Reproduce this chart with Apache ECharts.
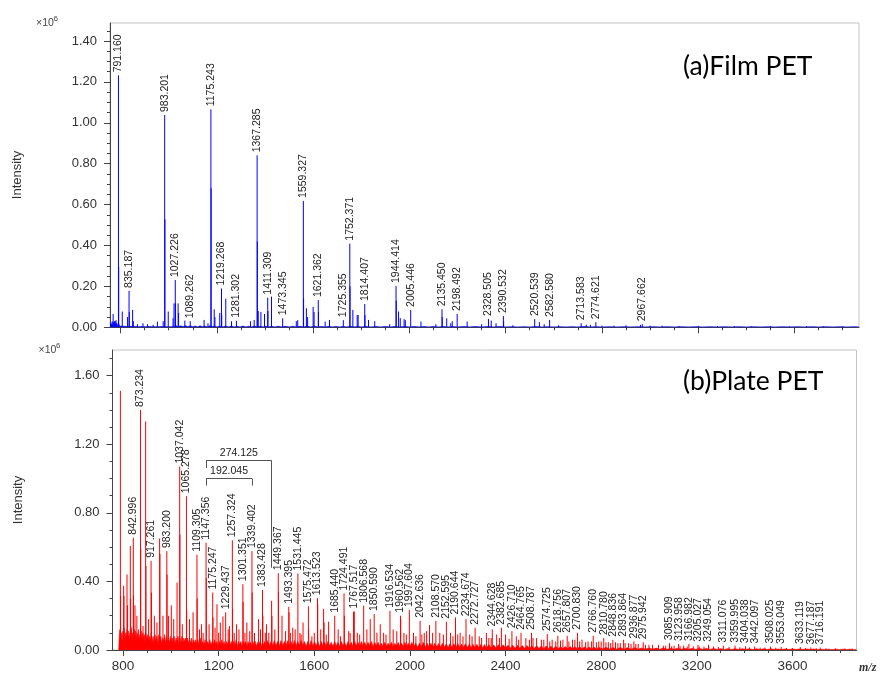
<!DOCTYPE html>
<html><head><meta charset="utf-8">
<script src="https://cdn.jsdelivr.net/npm/echarts@6.0.0/dist/echarts.min.js"></script>
<style>html,body{margin:0;padding:0;background:#fff}#c{width:883px;height:673px}</style>
</head><body><div id="c"></div>
<script>
// ---------- axis ticks ----------
const xMajorTicks = [800, 1200, 1600, 2000, 2400, 2800, 3200, 3600];
const filmYTicks = [0, 0.2, 0.4, 0.6, 0.8, 1.0, 1.2, 1.4];
const plateYTicks = [0, 0.4, 0.8, 1.2, 1.6];

// ---------- (a) Film PET : labelled peaks (m/z, intensity x10^6) ----------
const filmLabelMz = [791.160, 835.187, 983.201, 1027.226, 1089.262, 1175.243, 1219.268, 1281.302, 1367.285, 1411.309, 1473.345, 1559.327, 1621.362, 1725.355, 1752.371, 1814.407, 1944.414, 2005.446, 2135.450, 2198.492, 2328.505, 2390.532, 2520.539, 2582.580, 2713.583, 2774.621, 2967.662];
const filmLabelInt = [1.232, 0.178, 1.038, 0.231, 0.030, 1.066, 0.190, 0.032, 0.841, 0.145, 0.044, 0.618, 0.133, 0.035, 0.409, 0.114, 0.202, 0.085, 0.088, 0.065, 0.041, 0.055, 0.040, 0.036, 0.020, 0.025, 0.015];
// unlabelled peaks [m/z, intensity]
const filmMinor = [[769,0.065],[775,0.03],[781,0.035],[792.16,0.296],[807,0.077],[829,0.05],[836.19,0.075],[850,0.085],[853,0.03],[870,0.015],[893,0.02],[912,0.015],[935,0.012],[953,0.028],[977,0.03],[984.2,0.528],[998,0.077],[1018,0.044],[1022,0.117],[1028.23,0.117],[1039,0.117],[1041,0.07],[1067,0.033],[1147,0.036],[1163,0.02],[1176.24,0.68],[1189,0.088],[1192,0.05],[1212,0.07],[1220.27,0.06],[1237,0.14],[1261,0.03],[1340,0.03],[1355,0.036],[1368.29,0.42],[1372,0.08],[1383,0.075],[1398,0.065],[1412.31,0.08],[1427,0.15],[1530,0.03],[1536,0.035],[1560.33,0.142],[1572,0.093],[1577,0.05],[1600,0.1],[1604,0.075],[1622.36,0.075],[1650,0.028],[1668,0.036],[1753.37,0.2],[1765,0.085],[1783,0.06],[1787,0.06],[1815.41,0.06],[1830,0.036],[1856,0.03],[1918,0.015],[1945.41,0.13],[1955,0.077],[1962,0.045],[1978,0.04],[1983,0.035],[2048,0.028],[2110,0.015],[2136.45,0.05],[2155,0.044],[2172,0.02],[2178,0.03],[2240,0.028],[2300,0.015],[2340,0.033],[2360,0.02],[2391.53,0.03],[2430,0.01],[2540,0.025],[2560,0.015],[2620,0.01],[2735,0.013],[2752,0.012],[2800,0.008],[2850,0.008],[2900,0.01],[2960,0.012],[3000,0.008],[3050,0.008],[3120,0.006],[3200,0.007],[3280,0.006],[3350,0.006],[3420,0.005],[3500,0.006],[3580,0.005],[3650,0.006],[3720,0.005],[3800,0.005]];
// baseline noise
const filmNoise = [[756,0.022],[759,0.03],[762,0.012],[765,0.028],[768,0.01],[771,0.025],[774,0.012],[777,0.03],[780,0.01],[784,0.022],[788,0.008],[792,0.018],[796,0.006],[801,0.014],[806,0.005],[811,0.012],[816,0.005],[821,0.014],[826,0.004],[831,0.01],[838,0.005],[844,0.012],[850,0.004],[856,0.01],[862,0.004],[868,0.009],[875,0.003],[882,0.008],[889,0.004],[896,0.01],[903,0.003],[910,0.008],[917,0.004],[924,0.009],[931,0.003],[938,0.008],[945,0.003],[952,0.009],[959,0.003],[966,0.008],[973,0.004],[980,0.01],[988,0.003],[996,0.008],[1004,0.003],[1012,0.007],[1020,0.003],[1030,0.008],[1040,0.003],[1050,0.007],[1060,0.003],[1070,0.008],[1080,0.003],[1090,0.007],[1100,0.003],[1110,0.006],[1120,0.002],[1130,0.007],[1140,0.003],[1150,0.006],[1160,0.002],[1170,0.007],[1180,0.003],[1190,0.006],[1200,0.002],[1212,0.006],[1224,0.002],[1236,0.006],[1248,0.002],[1260,0.006],[1272,0.002],[1284,0.005],[1296,0.002],[1308,0.006],[1320,0.002],[1332,0.005],[1344,0.002],[1356,0.006],[1368,0.002],[1380,0.005],[1392,0.002],[1404,0.005],[1416,0.002],[1428,0.005],[1440,0.002],[1455,0.005],[1470,0.002],[1485,0.005],[1500,0.002],[1515,0.005],[1530,0.002],[1545,0.005],[1560,0.002],[1575,0.005],[1590,0.002],[1605,0.005],[1620,0.002],[1635,0.004],[1650,0.002],[1665,0.005],[1680,0.002],[1695,0.004],[1710,0.002],[1725,0.004],[1740,0.002],[1755,0.005],[1770,0.002],[1785,0.004],[1800,0.002],[1820,0.004],[1840,0.002],[1860,0.004],[1880,0.002],[1900,0.004],[1920,0.002],[1940,0.004],[1960,0.002],[1980,0.004],[2000,0.002],[2020,0.004],[2040,0.002],[2060,0.004],[2080,0.002],[2100,0.004],[2120,0.002],[2140,0.004],[2160,0.002],[2180,0.004],[2200,0.002],[2225,0.004],[2250,0.002],[2275,0.004],[2300,0.002],[2325,0.004],[2350,0.002],[2375,0.004],[2400,0.002],[2425,0.003],[2450,0.002],[2475,0.003],[2500,0.002],[2525,0.004],[2550,0.002],[2575,0.003],[2600,0.002],[2625,0.003],[2650,0.002],[2675,0.003],[2700,0.002],[2725,0.004],[2750,0.002],[2775,0.003],[2800,0.002],[2830,0.003],[2860,0.002],[2890,0.003],[2920,0.002],[2950,0.003],[2980,0.002],[3010,0.003],[3040,0.002],[3070,0.003],[3100,0.002],[3130,0.003],[3160,0.002],[3190,0.003],[3220,0.002],[3250,0.003],[3280,0.002],[3310,0.003],[3340,0.002],[3370,0.003],[3400,0.002],[3430,0.003],[3460,0.002],[3490,0.003],[3520,0.002],[3550,0.003],[3580,0.002],[3610,0.003],[3640,0.002],[3670,0.003],[3700,0.002],[3730,0.003],[3760,0.002],[3790,0.003],[3820,0.002],[3850,0.003],[3868,0.002]];

// ---------- (b) Plate PET : labelled peaks ----------
const plateLabelMz = [842.996, 873.234, 917.261, 983.200, 1037.042, 1065.278, 1109.305, 1147.356, 1175.247, 1229.437, 1257.324, 1301.351, 1339.402, 1383.428, 1449.367, 1493.395, 1531.445, 1575.472, 1613.523, 1685.440, 1724.491, 1767.517, 1806.568, 1850.590, 1916.534, 1960.562, 1997.604, 2042.636, 2108.570, 2152.595, 2190.644, 2234.674, 2272.727, 2344.628, 2382.685, 2426.710, 2464.765, 2508.787, 2574.725, 2618.756, 2657.807, 2700.830, 2766.760, 2810.780, 2848.836, 2893.864, 2936.877, 2975.942, 3085.909, 3123.958, 3166.982, 3205.027, 3249.054, 3311.076, 3359.995, 3404.038, 3442.097, 3508.025, 3553.049, 3633.119, 3677.187, 3716.191];
const plateLabelInt = [0.655, 1.400, 0.520, 0.577, 1.070, 0.897, 0.556, 0.626, 0.335, 0.220, 0.640, 0.384, 0.577, 0.350, 0.448, 0.252, 0.446, 0.255, 0.302, 0.200, 0.330, 0.225, 0.258, 0.210, 0.229, 0.200, 0.233, 0.170, 0.170, 0.165, 0.190, 0.180, 0.130, 0.120, 0.130, 0.110, 0.100, 0.100, 0.093, 0.083, 0.083, 0.100, 0.083, 0.070, 0.060, 0.060, 0.050, 0.045, 0.040, 0.035, 0.035, 0.030, 0.030, 0.025, 0.025, 0.022, 0.020, 0.020, 0.018, 0.017, 0.015, 0.015];
// unlabelled peaks [m/z, intensity]
const plateMinor = [[789.0,1.512],[790.0,0.316],[802.6,0.374],[804,0.316],[816.7,0.44],[819,0.26],[830.5,0.607],[832,0.30],[844,0.32],[850,0.26],[858,0.20],[874.2,0.59],[883.6,0.14],[894.6,1.333],[896,0.49],[907,0.18],[919,0.335],[931,0.20],[942,0.16],[953,0.65],[954.5,0.56],[967,0.20],[984.2,0.44],[990,0.20],[1002,0.26],[1012,0.18],[1026,0.393],[1038,0.674],[1048,0.15],[1066.3,0.23],[1078,0.18],[1093,0.22],[1110.3,0.30],[1120,0.12],[1128,0.15],[1135,0.10],[1148.4,0.42],[1160,0.15],[1176.2,0.19],[1185,0.13],[1193,0.267],[1200,0.10],[1207,0.16],[1218,0.196],[1240,0.12],[1245,0.14],[1258.3,0.24],[1265,0.10],[1275,0.15],[1285,0.12],[1302.4,0.28],[1310,0.10],[1318,0.16],[1330,0.11],[1340.4,0.335],[1350,0.10],[1367,0.18],[1375,0.12],[1385,0.20],[1395,0.10],[1400,0.15],[1410,0.10],[1421.5,0.287],[1423,0.20],[1435,0.12],[1450.4,0.34],[1465,0.20],[1480,0.11],[1494.4,0.22],[1500,0.10],[1510,0.13],[1520,0.12],[1540,0.10],[1545,0.09],[1553,0.16],[1576.5,0.12],[1590,0.08],[1600,0.10],[1614.5,0.267],[1627,0.12],[1639,0.24],[1641,0.16],[1650,0.09],[1660,0.165],[1700,0.12],[1710,0.08],[1726,0.20],[1744,0.11],[1750,0.10],[1764,0.223],[1780,0.10],[1790,0.09],[1820,0.12],[1834,0.18],[1862,0.10],[1876,0.15],[1890,0.10],[1900,0.09],[1930,0.12],[1945,0.11],[1961.6,0.18],[1975,0.10],[1985,0.09],[2015,0.10],[2025,0.08],[2050,0.09],[2060,0.10],[2070,0.11],[2082,0.145],[2095,0.10],[2125,0.10],[2140,0.09],[2170,0.10],[2180,0.08],[2200,0.09],[2210,0.10],[2222,0.08],[2250,0.09],[2260,0.08],[2290,0.08],[2300,0.07],[2320,0.10],[2330,0.07],[2340,0.07],[2363,0.09],[2375,0.07],[2400,0.09],[2415,0.065],[2445,0.08],[2455,0.06],[2485,0.07],[2500,0.06],[2515,0.07],[2530,0.07],[2550,0.06],[2560,0.06],[2585,0.05],[2595,0.06],[2610,0.05],[2630,0.055],[2640,0.06],[2665,0.05],[2680,0.06],[2690,0.06],[2710,0.05],[2720,0.06],[2735,0.045],[2745,0.05],[2760,0.05],[2780,0.045],[2790,0.05],[2800,0.05],[2820,0.045],[2830,0.045],[2840,0.04],[2860,0.045],[2870,0.04],[2880,0.04],[2900,0.04],[2915,0.04],[2925,0.035],[2945,0.035],[2955,0.035],[2985,0.03],[3000,0.03],[3015,0.03],[3040,0.03],[3060,0.025],[3070,0.025],[3095,0.022],[3105,0.025],[3130,0.022],[3145,0.025],[3160,0.02],[3185,0.022],[3210,0.02],[3230,0.02],[3250,0.018],[3270,0.02],[3290,0.018],[3335,0.018],[3380,0.016],[3420,0.015],[3465,0.014],[3485,0.014],[3530,0.013],[3575,0.012],[3600,0.012],[3655,0.011],[3700,0.01],[3740,0.01],[3780,0.009],[3820,0.009],[3850,0.008]];
// baseline noise
const plateNoise = [[782,0],[784,0.07],[787,0.12],[790,0.06],[793,0.1],[796,0.05],[799,0.11],[802,0.07],[805,0.13],[808,0.06],[811,0.1],[814,0.08],[817,0.12],[820,0.07],[823,0.11],[826,0.06],[829,0.1],[832,0.08],[835,0.13],[838,0.07],[841,0.1],[844,0.06],[847,0.12],[850,0.08],[853,0.11],[856,0.06],[859,0.1],[862,0.07],[865,0.12],[868,0.06],[871,0.09],[874,0.07],[877,0.11],[880,0.06],[883,0.1],[886,0.07],[889,0.09],[892,0.05],[895,0.1],[898,0.06],[902,0.09],[906,0.05],[910,0.08],[914,0.05],[918,0.1],[922,0.05],[926,0.08],[930,0.04],[934,0.09],[938,0.05],[942,0.08],[946,0.04],[950,0.09],[954,0.05],[958,0.08],[962,0.04],[966,0.07],[970,0.05],[974,0.09],[978,0.04],[982,0.08],[986,0.05],[990,0.07],[994,0.04],[998,0.08],[1002,0.05],[1006,0.07],[1010,0.04],[1014,0.08],[1018,0.04],[1022,0.07],[1026,0.05],[1030,0.08],[1034,0.04],[1038,0.07],[1042,0.04],[1046,0.08],[1050,0.04],[1054,0.07],[1058,0.05],[1062,0.07],[1066,0.04],[1070,0.07],[1074,0.04],[1078,0.06],[1082,0.04],[1086,0.07],[1090,0.03],[1094,0.06],[1098,0.04],[1103,0.06],[1108,0.03],[1113,0.06],[1118,0.03],[1123,0.07],[1128,0.03],[1133,0.05],[1138,0.03],[1143,0.06],[1148,0.03],[1153,0.05],[1158,0.03],[1163,0.06],[1168,0.03],[1173,0.05],[1178,0.03],[1183,0.06],[1188,0.03],[1193,0.05],[1198,0.02],[1203,0.05],[1208,0.03],[1213,0.06],[1218,0.03],[1223,0.05],[1228,0.02],[1233,0.05],[1238,0.03],[1243,0.06],[1248,0.03],[1253,0.05],[1258,0.02],[1263,0.05],[1268,0.03],[1273,0.06],[1278,0.02],[1283,0.05],[1288,0.03],[1293,0.05],[1298,0.02],[1303,0.05],[1308,0.03],[1313,0.05],[1318,0.02],[1323,0.05],[1328,0.03],[1333,0.045],[1338,0.02],[1343,0.05],[1348,0.03],[1353,0.05],[1358,0.02],[1363,0.045],[1368,0.03],[1373,0.05],[1378,0.02],[1383,0.045],[1388,0.03],[1393,0.05],[1398,0.02],[1405,0.055],[1412,0.025],[1419,0.05],[1426,0.025],[1433,0.055],[1440,0.025],[1447,0.05],[1454,0.025],[1461,0.055],[1468,0.025],[1475,0.05],[1482,0.025],[1489,0.055],[1496,0.025],[1503,0.05],[1510,0.025],[1517,0.055],[1524,0.025],[1531,0.05],[1538,0.025],[1545,0.055],[1552,0.025],[1559,0.05],[1566,0.02],[1573,0.05],[1580,0.025],[1587,0.055],[1594,0.02],[1601,0.05],[1608,0.025],[1615,0.05],[1622,0.02],[1629,0.05],[1636,0.025],[1643,0.045],[1650,0.02],[1657,0.05],[1664,0.025],[1671,0.045],[1678,0.02],[1685,0.05],[1692,0.025],[1699,0.045],[1706,0.02],[1713,0.05],[1720,0.025],[1727,0.045],[1734,0.02],[1741,0.05],[1748,0.025],[1755,0.045],[1762,0.02],[1769,0.05],[1776,0.025],[1783,0.045],[1790,0.02],[1797,0.05],[1804,0.025],[1811,0.045],[1818,0.02],[1825,0.045],[1832,0.025],[1839,0.05],[1846,0.02],[1853,0.045],[1860,0.025],[1867,0.045],[1874,0.02],[1881,0.04],[1888,0.02],[1895,0.045],[1902,0.02],[1909,0.04],[1916,0.025],[1923,0.045],[1930,0.02],[1937,0.04],[1944,0.02],[1951,0.045],[1958,0.02],[1965,0.04],[1972,0.02],[1979,0.045],[1986,0.02],[1993,0.04],[2000,0.02],[2008,0.045],[2016,0.018],[2024,0.04],[2032,0.016],[2040,0.04],[2048,0.018],[2056,0.045],[2064,0.016],[2072,0.04],[2080,0.018],[2088,0.04],[2096,0.016],[2104,0.04],[2112,0.018],[2120,0.038],[2128,0.016],[2136,0.04],[2144,0.016],[2152,0.036],[2160,0.015],[2168,0.038],[2176,0.015],[2184,0.036],[2192,0.015],[2200,0.038],[2208,0.015],[2216,0.035],[2224,0.014],[2232,0.036],[2240,0.014],[2248,0.034],[2256,0.013],[2264,0.034],[2272,0.013],[2280,0.033],[2288,0.013],[2296,0.032],[2304,0.012],[2312,0.032],[2320,0.012],[2330,0.031],[2340,0.012],[2350,0.03],[2360,0.011],[2370,0.03],[2380,0.011],[2390,0.03],[2400,0.011],[2410,0.028],[2420,0.01],[2430,0.028],[2440,0.01],[2450,0.027],[2460,0.01],[2470,0.026],[2480,0.009],[2490,0.026],[2500,0.009],[2510,0.025],[2520,0.009],[2530,0.025],[2540,0.009],[2550,0.024],[2560,0.008],[2570,0.024],[2580,0.008],[2590,0.022],[2600,0.008],[2610,0.022],[2620,0.008],[2630,0.021],[2640,0.008],[2650,0.02],[2660,0.007],[2670,0.02],[2680,0.007],[2690,0.019],[2700,0.007],[2710,0.019],[2720,0.007],[2730,0.018],[2740,0.006],[2750,0.018],[2760,0.006],[2770,0.017],[2780,0.006],[2790,0.016],[2805,0.006],[2820,0.015],[2835,0.006],[2850,0.014],[2865,0.005],[2880,0.014],[2895,0.005],[2910,0.013],[2925,0.005],[2940,0.013],[2955,0.005],[2970,0.012],[2985,0.005],[3000,0.011],[3015,0.005],[3030,0.011],[3045,0.004],[3060,0.011],[3075,0.004],[3090,0.01],[3105,0.004],[3120,0.01],[3135,0.004],[3150,0.01],[3165,0.004],[3180,0.009],[3195,0.004],[3210,0.009],[3225,0.004],[3240,0.009],[3255,0.003],[3270,0.009],[3285,0.003],[3300,0.008],[3315,0.003],[3330,0.008],[3345,0.003],[3360,0.008],[3375,0.003],[3390,0.008],[3405,0.003],[3420,0.007],[3435,0.003],[3450,0.007],[3465,0.003],[3480,0.007],[3495,0.003],[3510,0.007],[3525,0.003],[3540,0.006],[3555,0.003],[3570,0.006],[3585,0.003],[3600,0.006],[3615,0.003],[3630,0.006],[3645,0.003],[3660,0.006],[3675,0.003],[3690,0.006],[3705,0.002],[3720,0.005],[3735,0.002],[3750,0.005],[3765,0.002],[3780,0.005],[3795,0.002],[3810,0.005],[3825,0.002],[3840,0.005],[3855,0.002],[3868,0.004]];

// mass-difference brackets (b)
const bracketLabels = ['274.125', '192.045'];
const bracketStart = [1147.356, 1147.356];
const bracketEnd = [1421.481, 1339.401];
const bracketTop = [1.106, 1.000];
const bracketLeftFoot = [1.062, 0.959];
const bracketRightFoot = [0.480, 0.959];

// ---------- helpers ----------
const X_MIN = 756, X_MAX = 3868;
function stepTicks(from, to, step) { const r = []; for (let v = from; v <= to + 1e-9; v += step) r.push(+v.toFixed(4)); return r; }
const xMinorTicks = stepTicks(800, 3800, 100);
const filmYMinor = stepTicks(0, 1.45, 0.05);
const plateYMinor = stepTicks(0, 1.7, 0.1);

const AX = '#444';
const LBL_FONT = 'Liberation Sans';
function xAxisPair(grid, showLabels) {
  return [
    { type: 'value', gridIndex: grid, min: X_MIN, max: X_MAX, position: 'bottom',
      axisLine: { show: true, lineStyle: { color: AX, width: 1 } },
      axisTick: { show: true, customValues: xMajorTicks, length: 6, lineStyle: { color: AX } },
      axisLabel: { show: showLabels, customValues: xMajorTicks, margin: 9, color: '#333', fontSize: 13.5, fontFamily: LBL_FONT, formatter: v => String(Math.round(v)) },
      splitLine: { show: false } },
    { type: 'value', gridIndex: grid, min: X_MIN, max: X_MAX, position: 'bottom',
      axisLine: { show: false },
      axisTick: { show: true, customValues: xMinorTicks, length: 3, lineStyle: { color: AX } },
      axisLabel: { show: false }, splitLine: { show: false } }
  ];
}
function yAxisPair(grid, max, major, minor) {
  return [
    { type: 'value', gridIndex: grid, min: 0, max: max, position: 'left',
      axisLine: { show: true, lineStyle: { color: AX, width: 1 } },
      axisTick: { show: true, customValues: major, length: 6, lineStyle: { color: AX } },
      axisLabel: { show: true, customValues: major, margin: 13, color: '#333', fontSize: 13, fontFamily: LBL_FONT, formatter: v => v.toFixed(2) },
      splitLine: { show: false } },
    { type: 'value', gridIndex: grid, min: 0, max: max, position: 'left',
      axisLine: { show: false },
      axisTick: { show: true, customValues: minor, length: 3, lineStyle: { color: AX } },
      axisLabel: { show: false }, splitLine: { show: false } }
  ];
}
function stickSeries(xi, yi, data, color) {
  return { type: 'custom', xAxisIndex: xi, yAxisIndex: yi, z: 3, silent: true, clip: true,
    data: data, encode: { x: 0, y: 1 },
    renderItem: (params, api) => {
      const p0 = api.coord([api.value(0), 0]);
      const p1 = api.coord([api.value(0), api.value(1)]);
      return { type: 'line', shape: { x1: p0[0], y1: p0[1], x2: p1[0], y2: p1[1] }, style: { stroke: color, lineWidth: 1 } };
    } };
}
function labelSeries(xi, yi, mz, inten) {
  return { type: 'custom', xAxisIndex: xi, yAxisIndex: yi, z: 10, silent: true,
    data: mz.map((m, i) => [m, inten[i]]), encode: { x: 0, y: 1 },
    renderItem: (params, api) => {
      const p = api.coord([api.value(0), api.value(1)]);
      return { type: 'text', x: p[0], y: p[1] - 3, rotation: Math.PI / 2,
        style: { text: api.value(0).toFixed(3), fill: '#222', font: '10.5px "Liberation Sans"', align: 'left', verticalAlign: 'middle' } };
    } };
}
function noiseSeries(xi, yi, data, color) {
  return { type: 'line', xAxisIndex: xi, yAxisIndex: yi, z: 2, silent: true, data: data,
    symbol: 'none', showSymbol: false, sampling: null,
    lineStyle: { color: color, width: 0.6 }, areaStyle: { color: color, opacity: 1 } };
}

const bracketSegs = [];
bracketLabels.forEach((lab, i) => {
  const st = { lineStyle: { color: '#555', width: 1, type: 'solid' }, label: { show: false } };
  bracketSegs.push([{ coord: [bracketStart[i], bracketLeftFoot[i]], ...st }, { coord: [bracketStart[i], bracketTop[i]] }]);
  bracketSegs.push([{ coord: [bracketStart[i], bracketTop[i]], lineStyle: st.lineStyle,
    label: { show: true, formatter: lab, position: 'insideMiddleTop', distance: 2, color: '#222', fontSize: 10.5, fontFamily: LBL_FONT } },
    { coord: [bracketEnd[i], bracketTop[i]] }]);
  bracketSegs.push([{ coord: [bracketEnd[i], bracketTop[i]], ...st }, { coord: [bracketEnd[i], bracketRightFoot[i]] }]);
});

const filmSticks = filmMinor.concat(filmLabelMz.map((m, i) => [m, filmLabelInt[i]]));
const plateSticksData = plateMinor.concat(plateLabelMz.map((m, i) => [m, plateLabelInt[i]]));
const plateSticks = stickSeries(2, 2, plateSticksData, '#ff0000');
plateSticks.markLine = { silent: true, symbol: ['none', 'none'], animation: false, data: bracketSegs };

const option = {
  animation: false,
  backgroundColor: '#fff',
  grid: [
    { left: 110, top: 23, width: 749, height: 304.3, show: true, borderColor: '#c4c4c4', borderWidth: 1, backgroundColor: 'transparent' },
    { left: 112.5, top: 350, width: 744, height: 301, show: true, borderColor: '#c4c4c4', borderWidth: 1, backgroundColor: 'transparent' }
  ],
  xAxis: [...xAxisPair(0, false), ...xAxisPair(1, true)],
  yAxis: [...yAxisPair(0, 1.488, filmYTicks, filmYMinor), ...yAxisPair(1, 1.75, plateYTicks, plateYMinor)],
  series: [
    noiseSeries(0, 0, filmNoise, '#0000ff'),
    stickSeries(0, 0, filmSticks, '#0000ff'),
    labelSeries(0, 0, filmLabelMz, filmLabelInt),
    noiseSeries(2, 2, plateNoise, '#ff0000'),
    plateSticks,
    labelSeries(2, 2, plateLabelMz, plateLabelInt)
  ],
  graphic: [
    { type: 'text', x: 683, y: 66, style: { text: '(a)Film PET', font: '26.5px Lato', fill: '#000', verticalAlign: 'middle' } },
    { type: 'text', x: 683, y: 381, style: { text: '(b)Plate PET', font: '26.5px Lato', fill: '#000', verticalAlign: 'middle' } },
    { type: 'text', x: 17, y: 175, rotation: Math.PI / 2, style: { text: 'Intensity', font: '13px "Liberation Sans"', fill: '#333', align: 'center', verticalAlign: 'middle' } },
    { type: 'text', x: 18.5, y: 500, rotation: Math.PI / 2, style: { text: 'Intensity', font: '13px "Liberation Sans"', fill: '#333', align: 'center', verticalAlign: 'middle' } },
    { type: 'text', x: 36, y: 23, style: { text: '×10', font: '10.5px "Liberation Sans"', fill: '#444', verticalAlign: 'middle' } },
    { type: 'text', x: 53.5, y: 18.5, style: { text: '6', font: '8px "Liberation Sans"', fill: '#444', verticalAlign: 'middle' } },
    { type: 'text', x: 38.5, y: 350.5, style: { text: '×10', font: '10.5px "Liberation Sans"', fill: '#444', verticalAlign: 'middle' } },
    { type: 'text', x: 56, y: 346, style: { text: '6', font: '8px "Liberation Sans"', fill: '#444', verticalAlign: 'middle' } },
    { type: 'text', x: 859, y: 668, style: { text: 'm/z', font: 'italic bold 12px "Liberation Serif"', fill: '#333', verticalAlign: 'middle' } }
  ]
};
const chart = echarts.init(document.getElementById('c'), null, { renderer: 'canvas' });
chart.setOption(option);
</script></body></html>
